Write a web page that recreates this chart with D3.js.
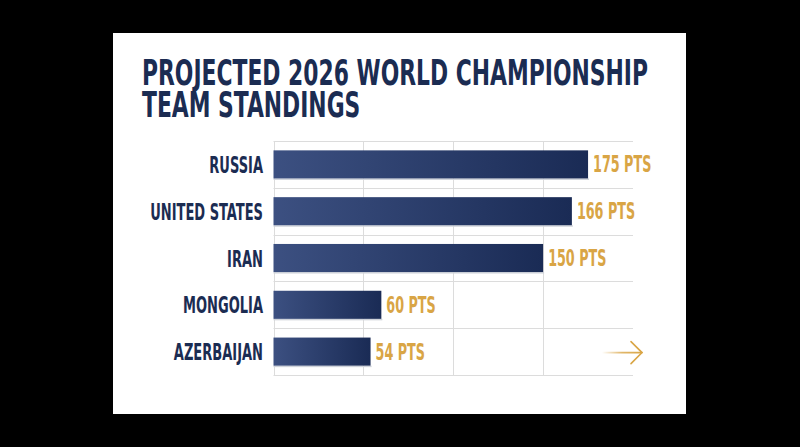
<!DOCTYPE html>
<html>
<head>
<meta charset="utf-8">
<script src="https://cdn.jsdelivr.net/npm/d3@7"></script>
<style>
  html, body { margin: 0; padding: 0; background: #000; }
  svg { display: block; }
  text { font-family: "DejaVu Sans Condensed", "DejaVu Sans", sans-serif; font-weight: bold; }
</style>
</head>
<body>
<svg></svg>
<script>
const teams = ["RUSSIA", "UNITED STATES", "IRAN", "MONGOLIA", "AZERBAIJAN"];
const points = [175, 166, 150, 60, 54];
const gridTicks = [0, 50, 100, 150];
const titleLines = ["PROJECTED 2026 WORLD CHAMPIONSHIP", "TEAM STANDINGS"];

const width = 800, height = 447;
const navy = "#1b2c52", gold = "#d9a545";
const squeeze = 0.63; // fake a condensed display face
const titleSqueeze = 0.675;

const svg = d3.select("svg")
    .attr("width", width)
    .attr("height", height);

svg.append("rect")
    .attr("width", width).attr("height", height)
    .attr("fill", "#000");

// white card
svg.append("rect")
    .attr("x", 113).attr("y", 33)
    .attr("width", 573).attr("height", 381)
    .attr("fill", "#fff");

var defs = svg.append("defs");
var grad = defs.append("linearGradient").attr("id", "bar-grad");
grad.append("stop").attr("offset", "0%").attr("stop-color", "#3c5081");
grad.append("stop").attr("offset", "100%").attr("stop-color", "#1a2b55");

var arrowGrad = defs.append("linearGradient").attr("id", "arrow-grad");
arrowGrad.append("stop").attr("offset", "0%").attr("stop-color", gold).attr("stop-opacity", 0);
arrowGrad.append("stop").attr("offset", "50%").attr("stop-color", gold).attr("stop-opacity", 0.8);
arrowGrad.append("stop").attr("offset", "100%").attr("stop-color", gold);

// title, one text block with a line per tspan
svg.append("text")
    .attr("transform", "translate(142,0) scale(" + titleSqueeze + ",1)")
    .attr("fill", navy)
    .attr("font-size", 36)
  .selectAll("tspan")
  .data(titleLines)
  .enter().append("tspan")
    .attr("x", 0)
    .attr("y", function(d, i) { return 85.5 + i * 31.5; })
    .text(function(d) { return d; });

var x = d3.scaleLinear()
    .domain([0, 200])
    .range([273.5, 633]);

var y = d3.scaleBand()
    .domain(teams)
    .range([141, 375])
    .paddingInner(0.4)
    .paddingOuter(0.2);

// grid
var grid = svg.append("g").attr("stroke", "#dcdcdc").attr("stroke-width", 1);

grid.selectAll(".v")
  .data(gridTicks)
  .enter().append("line")
    .attr("x1", function(d) { return Math.round(x(d)) + 0.5; })
    .attr("x2", function(d) { return Math.round(x(d)) + 0.5; })
    .attr("y1", y.range()[0])
    .attr("y2", y.range()[1]);

var bounds = [y.range()[0]].concat(teams.map(function(t) { return y(t) + y.step() * 0.8; }));
bounds[bounds.length - 1] = y.range()[1];
grid.selectAll(".h")
  .data(bounds)
  .enter().append("line")
    .attr("x1", x(0))
    .attr("x2", x.range()[1])
    .attr("y1", function(d) { return Math.round(d) + 0.5; })
    .attr("y2", function(d) { return Math.round(d) + 0.5; });

var rows = teams.map(function(t, i) { return { team: t, pts: points[i] }; });

// soft shadow under bars
svg.append("g").selectAll("rect")
  .data(rows)
  .enter().append("rect")
    .attr("x", x(0))
    .attr("y", function(d) { return y(d.team) + y.bandwidth(); })
    .attr("width", function(d) { return x(d.pts) - x(0) + 1; })
    .attr("height", 1.5)
    .attr("fill", "#cfd3da");

svg.append("g").selectAll("rect")
  .data(rows)
  .enter().append("rect")
    .attr("x", x(0))
    .attr("y", function(d) { return y(d.team); })
    .attr("width", function(d) { return x(d.pts) - x(0); })
    .attr("height", y.bandwidth())
    .attr("fill", "url(#bar-grad)");

// team labels
svg.append("g").selectAll("text")
  .data(rows)
  .enter().append("text")
    .attr("transform", function(d) {
      return "translate(263," + (y(d.team) + y.bandwidth() / 2 + 8.5) + ") scale(" + squeeze + ",1)";
    })
    .attr("text-anchor", "end")
    .attr("fill", navy)
    .attr("font-size", 23)
    .text(function(d) { return d.team; });

// value labels
svg.append("g").selectAll("text")
  .data(rows)
  .enter().append("text")
    .attr("transform", function(d) {
      return "translate(" + (x(d.pts) + 5) + "," + (y(d.team) + y.bandwidth() / 2 + 8) + ") scale(" + squeeze + ",1)";
    })
    .attr("fill", gold)
    .attr("font-size", 22.5)
    .text(function(d) { return d.pts + " PTS"; });

// decorative arrow
var ay = y(teams[teams.length - 1]) + y.bandwidth() / 2 + 1;
var ax = x.range()[1] + 9;
var arrow = svg.append("g")
    .attr("fill", "none")
    .attr("stroke-width", 1.6)
    .attr("stroke-linecap", "round");
arrow.append("line")
    .attr("x1", ax - 40).attr("x2", ax)
    .attr("y1", ay).attr("y2", ay + 0.01)
    .attr("stroke", "url(#arrow-grad)");
arrow.append("path")
    .attr("d", "M" + (ax - 11) + "," + (ay - 11) + "L" + ax + "," + ay + "L" + (ax - 11) + "," + (ay + 11))
    .attr("stroke", gold);
</script>
</body>
</html>
